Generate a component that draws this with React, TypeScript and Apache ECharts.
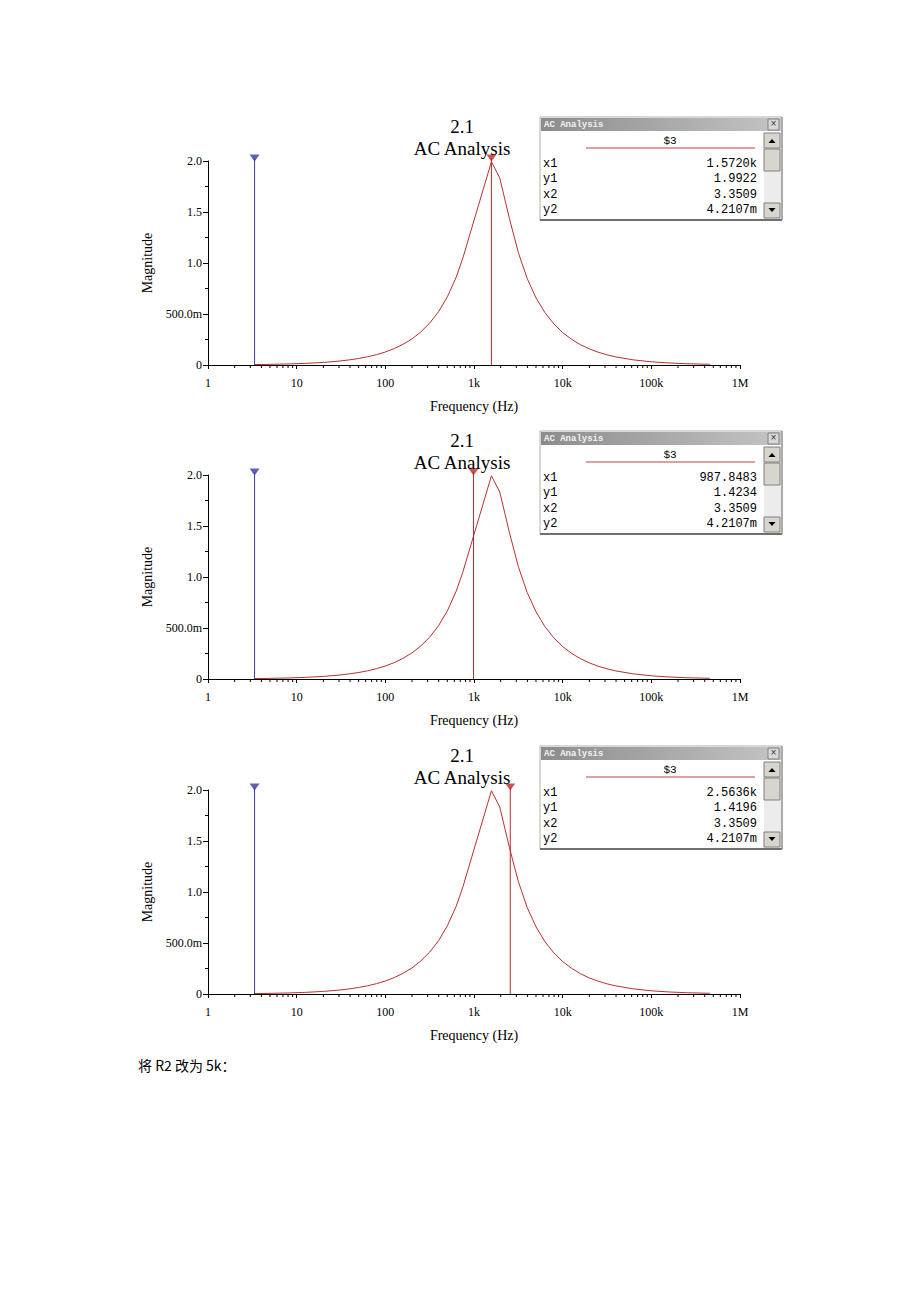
import React, { useEffect, useRef } from "react";
import * as echarts from "echarts";

// ---- data ----
const freqHz = [3.35, 5.01, 7.94, 12.6, 20.0, 31.6, 39.5, 50.1, 63.1, 79.4, 100, 126, 158, 200, 251, 316, 398, 501, 631, 750, 1572, 1950, 2512, 3162, 3981, 5012, 6310, 7943, 10000, 12589, 15849, 19953, 25119, 31623, 39811, 63096, 100000, 158489, 251189, 457088];
const magnitude = [0.0042, 0.0064, 0.0101, 0.016, 0.0254, 0.0402, 0.0506, 0.0638, 0.0803, 0.1012, 0.1275, 0.1606, 0.2026, 0.2558, 0.3236, 0.4103, 0.5222, 0.6688, 0.863, 1.0507, 1.9922, 1.8346, 1.4343, 1.1022, 0.8476, 0.6572, 0.5135, 0.4035, 0.3183, 0.2517, 0.1994, 0.1581, 0.1254, 0.0996, 0.0791, 0.0499, 0.0314, 0.0198, 0.0125, 0.0069];

const cursor1X = [1572.0, 987.8483, 2563.6];
const cursor2X = 3.3509;
const cursorTop = 2.03;

const panelTitle = "2.1";
const panelSubtitle = "AC Analysis";
const windowRowLabels = ["x1", "y1", "x2", "y2"];
const windowValues = [
  ["1.5720k", "1.9922", "3.3509", "4.2107m"],
  ["987.8483", "1.4234", "3.3509", "4.2107m"],
  ["2.5636k", "1.4196", "3.3509", "4.2107m"],
];
const xTickLabels: Record<number, string> = { 0: "1", 1: "10", 2: "100", 3: "1k", 4: "10k", 5: "100k", 6: "1M" };
const yTickLabels: Record<string, string> = { "0": "0", "0.5": "500.0m", "1": "1.0", "1.5": "1.5", "2": "2.0" };
const footerText = "将 R2 改为 5k：";

// layout
const panelOffsets = [0, 314, 629];
const GRID_LEFT = 208;
const GRID_W = 532;
const GRID_TOP0 = 161;
const GRID_H = 204;

const serif = "'Liberation Serif', 'DejaVu Serif', serif";
const mono = "'Liberation Mono', 'DejaVu Sans Mono', monospace";

const minorTickValues: number[] = [];
for (let d = 0; d < 6; d++) {
  for (let m = 2; m <= 9; m++) minorTickValues.push(m * Math.pow(10, d));
}

function makeWindow(top: number, vals: string[]) {
  const L = 540, R = 782, W = R - L, H = 103;
  const children: any[] = [
    { type: "rect", shape: { x: L, y: top, width: W, height: H }, style: { fill: "#fff", stroke: "#b0b0b0", lineWidth: 1 } },
    { type: "line", shape: { x1: L, y1: top + H, x2: R, y2: top + H }, style: { stroke: "#707070", lineWidth: 2 } },
    { type: "line", shape: { x1: R, y1: top, x2: R, y2: top + H }, style: { stroke: "#808080", lineWidth: 1 } },
    {
      type: "rect",
      shape: { x: L + 1, y: top + 1, width: W - 2, height: 13 },
      style: {
        fill: new echarts.graphic.LinearGradient(0, 0, 1, 0, [
          { offset: 0, color: "#8c8c8c" },
          { offset: 1, color: "#c4c4c4" },
        ]),
      },
    },
    { type: "text", x: L + 4, y: top + 8, style: { text: "AC Analysis", fill: "#f2f2f2", font: `bold 9px ${mono}`, verticalAlign: "middle" } },
    { type: "rect", shape: { x: R - 14, y: top + 2, width: 11, height: 11 }, style: { fill: "#d8d8d8", stroke: "#808080", lineWidth: 1 } },
    { type: "text", x: R - 8.5, y: top + 7.5, style: { text: "×", fill: "#333", font: `10px ${mono}`, align: "center", verticalAlign: "middle" } },
    { type: "text", x: 670, y: top + 24, style: { text: "$3", fill: "#000", font: `11px ${mono}`, align: "center", verticalAlign: "middle" } },
    { type: "line", shape: { x1: 586, y1: top + 31, x2: 755, y2: top + 31 }, style: { stroke: "#c04040", lineWidth: 1 } },
    // scrollbar
    { type: "rect", shape: { x: R - 18, y: top + 16, width: 17, height: 86 }, style: { fill: "#ececec" } },
    { type: "rect", shape: { x: R - 18, y: top + 16, width: 16, height: 15 }, style: { fill: "#d8d5ce", stroke: "#808080", lineWidth: 1 } },
    { type: "polygon", shape: { points: [[R - 13.5, top + 26], [R - 6.5, top + 26], [R - 10, top + 22]] }, style: { fill: "#000" } },
    { type: "rect", shape: { x: R - 18, y: top + 32, width: 16, height: 22 }, style: { fill: "#d8d5ce", stroke: "#808080", lineWidth: 1 } },
    { type: "rect", shape: { x: R - 18, y: top + 86, width: 16, height: 15 }, style: { fill: "#d8d5ce", stroke: "#808080", lineWidth: 1 } },
    { type: "polygon", shape: { points: [[R - 13.5, top + 91], [R - 6.5, top + 91], [R - 10, top + 95]] }, style: { fill: "#000" } },
  ];
  windowRowLabels.forEach((lab, i) => {
    const y = top + 47 + i * 15.3;
    children.push({ type: "text", x: L + 3, y, style: { text: lab, fill: "#000", font: `12px ${mono}`, verticalAlign: "middle" } });
    children.push({ type: "text", x: 757, y, style: { text: vals[i], fill: "#000", font: `12px ${mono}`, align: "right", verticalAlign: "middle" } });
  });
  return { type: "group", children };
}

export default function App() {
  const ref = useRef<HTMLDivElement>(null);
  useEffect(() => {
    if (!ref.current) return;
    const chart = echarts.init(ref.current, undefined, { renderer: "svg" });
    const curve = freqHz.map((f, i) => [f, magnitude[i]]);

    const grids: any[] = [];
    const xAxes: any[] = [];
    const yAxes: any[] = [];
    const series: any[] = [];
    const graphics: any[] = [];

    panelOffsets.forEach((off, p) => {
      grids.push({ left: GRID_LEFT, top: GRID_TOP0 + off, width: GRID_W, height: GRID_H, containLabel: false });
      xAxes.push({
        gridIndex: p,
        type: "log",
        logBase: 10,
        min: 1,
        max: 1000000,
        splitNumber: 6,
        name: "Frequency (Hz)",
        nameLocation: "middle",
        nameGap: 34,
        nameTextStyle: { fontFamily: serif, fontSize: 14, color: "#000" },
        axisLine: { show: true, lineStyle: { color: "#000", width: 1 } },
        axisTick: { show: true, length: 4, lineStyle: { color: "#000" } },
        minorTick: { show: false },
        splitLine: { show: false },
        axisLabel: {
          fontFamily: serif,
          fontSize: 12,
          color: "#000",
          margin: 12,
          formatter: (v: number) => xTickLabels[Math.round(Math.log10(v))] ?? "",
        },
      });
      yAxes.push({
        gridIndex: p,
        type: "value",
        min: 0,
        max: 2,
        interval: 0.5,
        name: "Magnitude",
        nameLocation: "middle",
        nameGap: 53,
        nameTextStyle: { fontFamily: serif, fontSize: 14, color: "#000" },
        axisLine: { show: true, lineStyle: { color: "#000", width: 1 } },
        axisTick: { show: true, length: 5, lineStyle: { color: "#000" } },
        minorTick: { show: true, splitNumber: 2, length: 3, lineStyle: { color: "#000" } },
        splitLine: { show: false },
        axisLabel: {
          fontFamily: serif,
          fontSize: 12,
          color: "#000",
          margin: 6,
          formatter: (v: number) => yTickLabels[String(v)] ?? "",
        },
      });
      // minor log ticks
      series.push({
        type: "custom",
        xAxisIndex: p,
        yAxisIndex: p,
        silent: true,
        clip: false,
        data: minorTickValues.map((v) => [v, 0]),
        renderItem: (_params: any, api: any) => {
          const pt = api.coord([api.value(0), 0]);
          return {
            type: "line",
            shape: { x1: pt[0], y1: pt[1], x2: pt[0], y2: pt[1] + 3 },
            style: { stroke: "#000", lineWidth: 1 },
          };
        },
      });
      // response curve
      series.push({
        type: "line",
        xAxisIndex: p,
        yAxisIndex: p,
        data: curve,
        showSymbol: false,
        symbol: "none",
        clip: false,
        lineStyle: { color: "#b83030", width: 1 },
        z: 3,
      });
      // cursor 2 (blue)
      series.push({
        type: "line",
        xAxisIndex: p,
        yAxisIndex: p,
        data: [[cursor2X, 0], [cursor2X, cursorTop]],
        showSymbol: false,
        symbol: "none",
        clip: false,
        lineStyle: { color: "#3a3aa8", width: 1 },
        z: 4,
      });
      // cursor 1 (red)
      series.push({
        type: "line",
        xAxisIndex: p,
        yAxisIndex: p,
        data: [[cursor1X[p], 0], [cursor1X[p], cursorTop]],
        showSymbol: false,
        symbol: "none",
        clip: false,
        lineStyle: { color: "#c02828", width: 1 },
        z: 4,
      });
      series.push({
        type: "scatter",
        xAxisIndex: p,
        yAxisIndex: p,
        clip: false,
        data: [[cursor2X, cursorTop]],
        symbol: "triangle",
        symbolRotate: 180,
        symbolSize: [10, 7],
        itemStyle: { color: "#3a3aa8" },
        z: 5,
      });
      series.push({
        type: "scatter",
        xAxisIndex: p,
        yAxisIndex: p,
        clip: false,
        data: [[cursor1X[p], cursorTop]],
        symbol: "triangle",
        symbolRotate: 180,
        symbolSize: [10, 7],
        itemStyle: { color: "#c02828" },
        z: 5,
      });

      graphics.push({ type: "text", x: 462, y: 126 + off, style: { text: panelTitle, fill: "#000", font: `19px ${serif}`, align: "center", verticalAlign: "middle" }, z: 10 });
      graphics.push({ type: "text", x: 462, y: 148 + off, style: { text: panelSubtitle, fill: "#000", font: `19px ${serif}`, align: "center", verticalAlign: "middle" }, z: 10 });
      graphics.push(makeWindow(117 + off, windowValues[p]));
    });

    graphics.push({
      type: "text",
      x: 138,
      y: 1065,
      style: { text: footerText, fill: "#000", font: `14px 'Noto Sans CJK SC', sans-serif`, verticalAlign: "middle" },
    });

    chart.setOption({
      animation: false,
      backgroundColor: "#fff",
      grid: grids,
      xAxis: xAxes,
      yAxis: yAxes,
      series,
      graphic: graphics,
    });
    return () => chart.dispose();
  }, []);
  return <div ref={ref} style={{ position: "absolute", left: 0, top: 0, width: 920, height: 1302 }} />;
}
